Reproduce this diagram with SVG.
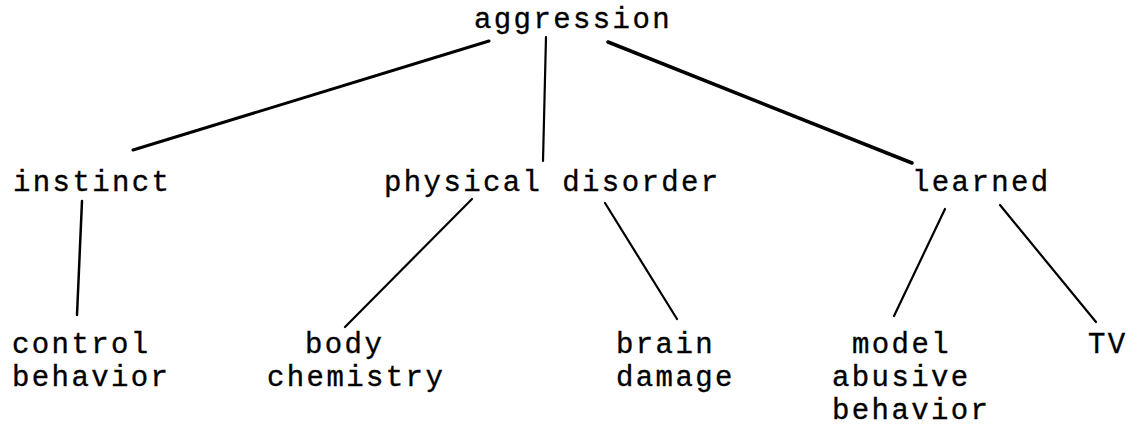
<svg xmlns="http://www.w3.org/2000/svg" width="1139" height="427" viewBox="0 0 1139 427">
<style>
.t{font-family:"Liberation Mono","Courier New",monospace;font-size:29px;letter-spacing:2.4px;fill:#000;stroke:#000;stroke-width:0.35px;}
.c{stroke:#000;stroke-linecap:round;fill:none;}
</style>
<rect width="1139" height="427" fill="#fff"/>
<g id="connectors">
<line class="c" x1="489" y1="41" x2="133" y2="150" stroke-width="3"/>
<line class="c" x1="546" y1="37" x2="543" y2="161" stroke-width="2.2"/>
<line class="c" x1="608" y1="42" x2="912" y2="163" stroke-width="3.5"/>
<line class="c" x1="82" y1="201" x2="77" y2="315" stroke-width="2.5"/>
<line class="c" x1="472" y1="199" x2="345" y2="327" stroke-width="2.2"/>
<line class="c" x1="605" y1="203" x2="677" y2="319" stroke-width="2.2"/>
<line class="c" x1="945" y1="209" x2="894" y2="316" stroke-width="2.2"/>
<line class="c" x1="1000" y1="205" x2="1096" y2="322" stroke-width="2.2"/>
</g>
<g id="aggression"><text class="t" x="474" y="28">aggression</text></g>
<g id="instinct"><text class="t" x="13" y="191">instinct</text></g>
<g id="physical-disorder"><text class="t" x="384" y="191">physical disorder</text></g>
<g id="learned"><text class="t" x="912" y="191">learned</text></g>
<g id="control-behavior"><text class="t" x="12" y="353">control</text><text class="t" x="12" y="386">behavior</text></g>
<g id="body-chemistry"><text class="t" x="305" y="353">body</text><text class="t" x="267" y="386">chemistry</text></g>
<g id="brain-damage"><text class="t" x="616" y="353">brain</text><text class="t" x="616" y="386">damage</text></g>
<g id="model-abusive-behavior"><text class="t" x="852" y="353">model</text><text class="t" x="832" y="386">abusive</text><text class="t" x="832" y="419">behavior</text></g>
<g id="tv"><text class="t" x="1088" y="353">TV</text></g>
</svg>
